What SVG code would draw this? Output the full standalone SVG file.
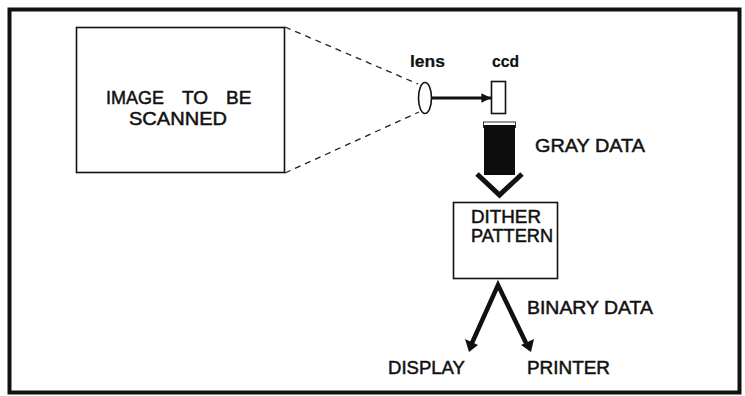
<svg xmlns="http://www.w3.org/2000/svg" width="745" height="396" viewBox="0 0 745 396">
<style>
  text { font-family: "Liberation Sans", Arial, sans-serif; fill: #111; stroke: #111; stroke-width: 0.5; }
  .lbl { font-size: 19px; }
  .small { font-size: 16px; font-weight: bold; stroke-width: 0.2; }
  .box { fill: #fff; stroke: #111; stroke-width: 1.6; }
  .dash { fill: none; stroke: #222; stroke-width: 1.3; stroke-dasharray: 6 5; }
  .thick { fill: none; stroke: #111; stroke-linecap: butt; }
</style>
<defs>
  <marker id="ah" viewBox="0 0 10 10" refX="10" refY="5" markerWidth="4.5" markerHeight="3" orient="auto" markerUnits="strokeWidth">
    <path d="M0,0 L10,5 L0,10 Z" fill="#111"/>
  </marker>
</defs>
<rect x="0" y="0" width="745" height="396" fill="#fff"/>
<rect x="9.5" y="9.5" width="730" height="383" fill="none" stroke="#111" stroke-width="4"/>

<g id="image">
  <rect class="box" x="76.5" y="27.5" width="208" height="145"/>
  <text class="lbl" y="104"><tspan x="106" textLength="58" lengthAdjust="spacingAndGlyphs">IMAGE</tspan><tspan x="182">TO</tspan><tspan x="226">BE</tspan></text>
  <text class="lbl" x="129" y="125" textLength="98" lengthAdjust="spacingAndGlyphs">SCANNED</text>
</g>

<g id="lens">
  <ellipse cx="425" cy="98" rx="6.5" ry="15.5" fill="#fff" stroke="#111" stroke-width="1.6"/>
  <text class="small" x="410" y="67" textLength="35" lengthAdjust="spacingAndGlyphs">lens</text>
</g>

<g id="ccd">
  <rect class="box" x="491.5" y="81.5" width="14" height="32"/>
  <text class="small" x="492" y="67" textLength="27" lengthAdjust="spacingAndGlyphs">ccd</text>
</g>

<g id="dither">
  <rect class="box" x="453.5" y="202.5" width="104" height="76"/>
  <text class="lbl" x="471" y="223" textLength="70" lengthAdjust="spacingAndGlyphs">DITHER</text>
  <text class="lbl" x="471" y="242" textLength="82" lengthAdjust="spacingAndGlyphs">PATTERN</text>
</g>

<g id="display">
  <text class="lbl" x="388" y="374" textLength="77" lengthAdjust="spacingAndGlyphs">DISPLAY</text>
</g>

<g id="printer">
  <text class="lbl" x="527" y="374" textLength="83" lengthAdjust="spacingAndGlyphs">PRINTER</text>
</g>

<g id="connectors">
  <line class="dash" x1="285" y1="27" x2="418" y2="84"/>
  <line class="dash" x1="285" y1="173" x2="419" y2="112"/>
  <line class="thick" x1="432" y1="98" x2="491" y2="98" stroke-width="3.2" marker-end="url(#ah)"/>
  <g id="gray-data">
    <line x1="483" y1="122" x2="516" y2="122" stroke="#333" stroke-width="1"/>
    <line x1="483.5" y1="122" x2="483.5" y2="128" stroke="#333" stroke-width="1"/>
    <line x1="515.5" y1="122" x2="515.5" y2="128" stroke="#333" stroke-width="1"/>
    <rect x="484" y="125" width="31" height="50" fill="#0d0d0d"/>
    <polyline class="thick" points="477,174 499.5,195 522,174" stroke-width="5"/>
    <text class="lbl" x="535" y="152" textLength="110" lengthAdjust="spacingAndGlyphs">GRAY DATA</text>
  </g>
  <g id="binary-data">
    <polyline class="thick" points="472,343 498,285 526,343" stroke-width="4.5" stroke-linejoin="miter"/>
    <path d="M465,339 L478,345 L469,352 Z" fill="#111"/>
    <path d="M521,345 L534,339 L531,352 Z" fill="#111"/>
    <text class="lbl" x="527" y="314" textLength="126" lengthAdjust="spacingAndGlyphs">BINARY DATA</text>
  </g>
</g>
</svg>
